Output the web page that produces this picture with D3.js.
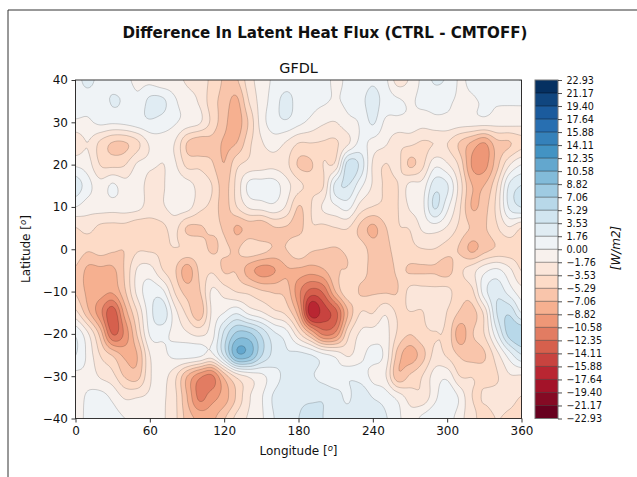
<!DOCTYPE html>
<html>
<head>
<meta charset="utf-8">
<script src="https://cdn.jsdelivr.net/npm/d3@7"></script>
<style>
  html, body { margin: 0; padding: 0; background: #fff; }
  svg { display: block; }
  text { font-family: "DejaVu Sans", sans-serif; fill: #111; }
</style>
</head>
<body>
<div class="container"></div>
<script>
var width = 637,
    height = 477;
var margin = { top: 80, left: 75.5, right: 521.5, bottom: 418.5 };

var titleText = "Difference In Latent Heat Flux (CTRL - CMTOFF)";
var panelText = "GFDL";
var xLabelText = "Longitude [";
var yLabelText = "Latitude [";
var cbarLabelText = "[W/m2]";

var lonTicks = [0, 60, 120, 180, 240, 300, 360];
var latTicks = [-40, -30, -20, -10, 0, 10, 20, 30, 40];

var levels = [-22.93, -21.17, -19.40, -17.64, -15.88, -14.11, -12.35, -10.58, -8.82, -7.06, -5.29, -3.53, -1.76,
  0.00, 1.76, 3.53, 5.29, 7.06, 8.82, 10.58, 12.35, 14.11, 15.88, 17.64, 19.40, 21.17, 22.93];

// grid nodes, flux difference in W/m2
var lons = d3.range(0, 361, 10);
var lats = [40, 35, 30, 25, 20, 15, 10, 5, 0, -5, -10, -15, -20, -25, -30, -35, -40];

var row40 = [1.2,2.2,1.2,1,0.5,-0.5,-0.5,-1.3,-1.2,-2,-2.5,-4,-5.5,-5.5,-2.5,-1,0.3,0.8,1,1.5,1,-0.5,0.5,0.8,1.5,0.5,-2.5,-1.5,0.5,2,1.5,-0.2,0.5,1,1.2,1.5,1.8];
var row35 = [1,0.8,1,1.9,1.5,0.5,2.2,2.2,0.3,-1,-2,-4.5,-6,-7.5,-3.5,-1,0.8,2.4,1,0.7,0.3,-0.2,0.5,1.2,2.5,1,0.3,-0.2,0.4,0.5,0.3,-0.3,-0.3,0.3,0.2,0.2,0.3];
var row30 = [-0.3,-0.3,0.4,0.3,0.5,1,1.5,1,0.2,-0.7,-1.5,-4,-6.5,-8,-5,-1,1,1.5,0.5,-0.5,-1.5,-1.8,-0.5,0.2,2,-0.3,-0.5,-0.5,-1,-0.5,-0.5,-0.8,-0.8,-0.8,-1,-1,-1.2];
var row25 = [-3,-1.8,-4,-5.5,-5.5,-4,-1.5,-1,-1.8,-5.4,-6.5,-6,-7.3,-7,-4,-2,-1,-2,-3.6,-3.6,-3.7,-3.8,-2,0.5,-0.7,-1.5,-3,-3.2,-3.8,-3.5,-3.5,-5.5,-7.5,-9,-6,-5.5,-4.2];
var row20 = [-0.3,-1,-3.6,-4,-3.6,-1.5,-1.5,-1.8,-1.5,-4,-4,-5,-7,-4,-3,-2.5,-2.2,-3,-5.5,-5.5,-3.5,-3,4.5,3,-2,-3.6,-3,-5.6,-4,-0.5,-1.5,-4,-9,-9.5,-6,-2,0];
var row15 = [2.8,0.7,-1,0.3,-1,-0.8,-2.5,-2,-0.7,-1,-2.4,-3.5,-6,-3,0.5,0.8,0.8,-1,-3,-4,-3.6,2.5,3.5,0.5,-2,-3.8,-3.6,-1.2,-1,2.8,2,-2.5,-7,-7,-3.7,2,3.6];
var row10 = [0,-1,-1,-1,-1,-1.2,-2.5,-2,-1,-1,-3,-4,-6,-3.6,-1.5,-1,-0.5,-2,-5.4,-3.6,-1.5,-0.3,0.6,-2.5,-3.6,-3.8,-3.6,-1.5,-0.5,3.8,0.5,-3.2,-7.2,-6,-3,2,3.6];
var row5 = [-3.6,-3,-4,-4.2,-4.2,-4.8,-4.4,-4,-3,-5.5,-5.5,-5,-5.5,-7.3,-6.5,-7,-5.5,-5.5,-6,-3.8,-4,-3.6,-3.5,-5.8,-7.5,-5.5,-3.7,-3.4,-1.5,-1,-2,-4,-5.5,-5.5,-3.8,-2,-3.6];
var row0 = [-4,-5,-4.5,-5,-5.2,-3.8,-3.8,-3.8,-3.6,-3.8,-4.5,-5.5,-5,-5.5,-4,-4.5,-5.5,-5.3,-4,-5,-5.3,-5.4,-5,-4.5,-6,-6,-4.3,-4,-3.6,-3.6,-4.5,-5.5,-7.5,-6,-5,-4.5,-4.3];
var rowS5 = [-5.5,-7.5,-7.5,-7.5,-5,-1.5,-1,-3.4,-5,-8,-5,-3.8,-5.5,-5.5,-8,-9.5,-9,-7.3,-7.5,-8,-7.3,-5.5,-5.2,-4.5,-6,-6.5,-5,-5.5,-5.5,-5.5,-6,-4,-2.5,-0.5,0.4,-1.2,-3.6];
var rowS10 = [-5.5,-7.5,-8,-8.5,-5.5,-1.2,1,0.5,-3.6,-6,-5.5,-1.5,-2.5,-3.6,-4,-5,-5.5,-6,-10,-13,-12,-7,-4,-5.5,-5.5,-5.5,-5.3,-3,-3,-3,-3,-4.5,-4,1,3,1,-1];
var rowS15 = [-3,-6.5,-10,-13.5,-8,-3.5,1,3,-1,-4,-6.5,-1.5,0,1.5,-0.5,-1.5,-3,-4,-8,-17,-15,-13,-7,-3.5,-3.6,-2,-3.8,-3.6,-3.6,-2.5,-3.6,-5.5,-6,-3,3.5,5,1.7];
var rowS20 = [1.5,-1.5,-6,-12.5,-10,-5,0.2,0.5,-0.5,-1.5,-2.2,-0.8,4,7.5,7.5,5,2.2,0.8,-3,-7,-11,-10,-4,-1.5,-1,-1,-3.8,-5.2,-4,-3.6,-4,-8,-5.5,-3.5,1.2,6,7];
var rowS25 = [1.8,-0.5,-3.6,-5.5,-7.5,-7,-1.8,-0.5,0.4,0.8,0.5,-0.5,4,10,9.5,5.5,3,2,2.3,1.8,0.5,-0.5,-2,-0.5,0.5,-0.5,-6,-8,-6,-3,-3.8,-5.5,-6,-5.5,-2.5,0.8,3.4];
var rowS30 = [-0.5,-0.5,-2,-3,-5.5,-6,-2,-1.2,-3,-7,-10,-11,-6.5,-3,-1.5,-0.5,1,2.2,2.2,2,1,0.3,1.5,1,-0.5,-1.5,-6.5,-5,-3.5,-1,-0.5,-3.5,-3.6,-4,-3.7,-2,-2];
var rowS35 = [-0.5,0.2,0.7,-0.4,-2,-1.8,-1.5,-1.5,-3,-7,-11,-9.5,-8,-5,-2,-0.2,2,2.8,3,3,3.3,2.5,1.5,3,1.7,1,-0.5,-2.5,-3,-0.5,1.5,-0.3,-3.5,-3.4,-3,-3,-3.6];
var rowS40 = [-0.5,0.3,0.7,0.7,0,-0.5,-1,-1.5,-3,-6,-7.5,-7.5,-5.5,-3,-1.5,-0.3,1.7,3,3.5,5,3.5,1.8,2.5,2,3.2,2,0.5,-1,0.5,1.5,1,-1,-3,-4,-3.5,-3.8,-4];

var rows = [row40, row35, row30, row25, row20, row15, row10, row5, row0, rowS5, rowS10, rowS15, rowS20, rowS25, rowS30, rowS35, rowS40];

// ---------- COLOURS ----------
// matplotlib RdBu_r stops, dark red first
var rdbu = ["#67001f", "#b2182b", "#d6604d", "#f4a582", "#fddbc7", "#f7f7f7", "#d1e5f0", "#92c5de", "#4393c3", "#2166ac", "#053061"];
var rdbuScale = d3.scaleLinear()
    .domain(d3.range(0, 1.01, 0.1))
    .range(rdbu);
// first and last bins take the very ends of the colormap
function binColour(i) {
  return rdbuScale(i / (levels.length - 2));
}

var svg = d3.select(".container").append("svg")
    .attr("width", width)
    .attr("height", height);

svg.append("rect").attr("width", width).attr("height", height).attr("fill", "#fff");

// figure frame, only top and left show
svg.append("path")
    .attr("d", "M8,477V10H637")
    .attr("fill", "none")
    .attr("stroke", "#333")
    .attr("stroke-width", 1);

var x = d3.scaleLinear().domain([0, 360]).range([margin.left, margin.right]);
var y = d3.scaleLinear().domain([-40, 40]).range([margin.bottom, margin.top]);

// ---------- FIELD ----------
// catmull-rom upsample of the grid so contour lines come out round
var upsample = 8;
function cubic(a, b, c, d, t) {
  return b + 0.5 * t * (c - a + t * (2 * a - 5 * b + 4 * c - d + t * (3 * (b - c) + d - a)));
}
function fieldAt(fx, fy) {
  var nx = lons.length, ny = lats.length;
  var i = Math.min(Math.floor(fx), nx - 2), j = Math.min(Math.floor(fy), ny - 2);
  var col = [];
  for (var m = -1; m <= 2; m++) {
    var r = rows[Math.max(0, Math.min(ny - 1, j + m))];
    col.push(cubic(r[Math.max(0, i - 1)], r[i], r[i + 1], r[Math.min(nx - 1, i + 2)], fx - i));
  }
  return cubic(col[0], col[1], col[2], col[3], fy - j);
}
var gridW = (lons.length - 1) * upsample + 1,
    gridH = (lats.length - 1) * upsample + 1;
var values = new Float64Array(gridW * gridH);
for (var gy = 0; gy < gridH; gy++) {
  for (var gx = 0; gx < gridW; gx++) {
    values[gy * gridW + gx] = fieldAt(gx / upsample, gy / upsample);
  }
}

var contours = d3.contours()
    .size([gridW, gridH])
    .smooth(true)
    .thresholds(levels)(values);

var gx2lon = d3.scaleLinear().domain([0.5, gridW - 0.5]).range([0, 360]);
var gy2lat = d3.scaleLinear().domain([0.5, gridH - 0.5]).range([40, -40]);
var path = d3.geoPath(d3.geoTransform({
  point: function(a, b) { this.stream.point(x(gx2lon(a)), y(gy2lat(b))); }
}));

svg.append("defs").append("clipPath").attr("id", "plot-clip")
  .append("rect")
    .attr("x", margin.left).attr("y", margin.top)
    .attr("width", margin.right - margin.left)
    .attr("height", margin.bottom - margin.top);

var plot = svg.append("g").attr("clip-path", "url(#plot-clip)");

plot.selectAll(".band")
    .data(contours.slice(0, contours.length - 1))
  .enter().append("path")
    .attr("class", "band")
    .attr("d", path)
    .attr("fill", function(d, i) { return binColour(i); });

plot.selectAll(".line")
    .data(contours)
  .enter().append("path")
    .attr("class", "line")
    .attr("d", path)
    .attr("fill", "none")
    .attr("stroke", "#000")
    .attr("stroke-opacity", 0.22)
    .attr("stroke-width", 0.8);

// ---------- AXES ----------
var xAxis = svg.append("g")
    .attr("transform", "translate(0," + margin.bottom + ")")
    .call(d3.axisBottom(x).tickValues(lonTicks).tickSize(4).tickPadding(3.5));
var yAxis = svg.append("g")
    .attr("transform", "translate(" + margin.left + ",0)")
    .call(d3.axisLeft(y).tickValues(latTicks).tickSize(4).tickPadding(3.5)
      .tickFormat(function(d) { return String(d).replace("-", "\u2212"); }));
[xAxis, yAxis].forEach(function(a) {
  a.selectAll("text").style("font-size", "12px");
  a.select(".domain").remove();
  a.selectAll("line").attr("stroke", "#222").attr("stroke-width", 0.9);
});

svg.append("rect")
    .attr("x", margin.left).attr("y", margin.top)
    .attr("width", margin.right - margin.left)
    .attr("height", margin.bottom - margin.top)
    .attr("fill", "none")
    .attr("stroke", "#222")
    .attr("stroke-width", 0.9);

// ---------- COLOURBAR ----------
var cbarLeft = 535, cbarRight = 558;
// tick positions are evenly spaced on a contourf colourbar
var cbEven = d3.scalePoint().domain(levels).range([margin.bottom, margin.top]);

svg.selectAll(".cbin")
    .data(levels.slice(0, -1))
  .enter().append("rect")
    .attr("class", "cbin")
    .attr("x", cbarLeft)
    .attr("width", cbarRight - cbarLeft)
    .attr("y", function(d, i) { return cbEven(levels[i + 1]); })
    .attr("height", function(d, i) { return cbEven(levels[i]) - cbEven(levels[i + 1]); })
    .attr("fill", function(d, i) { return binColour(i); });

svg.selectAll(".clev")
    .data(levels.slice(1, -1))
  .enter().append("line")
    .attr("class", "clev")
    .attr("x1", cbarLeft).attr("x2", cbarRight)
    .attr("y1", function(d) { return cbEven(d); })
    .attr("y2", function(d) { return cbEven(d); })
    .attr("stroke", "#000")
    .attr("stroke-opacity", 0.5)
    .attr("stroke-width", 0.8);

svg.append("rect")
    .attr("x", cbarLeft).attr("y", margin.top)
    .attr("width", cbarRight - cbarLeft)
    .attr("height", margin.bottom - margin.top)
    .attr("fill", "none")
    .attr("stroke", "#777")
    .attr("stroke-width", 1);

var cbAxis = svg.append("g")
    .attr("transform", "translate(" + cbarRight + ",0)")
    .call(d3.axisRight(cbEven).tickSize(4).tickPadding(4.5)
      .tickFormat(function(d) { return d.toFixed(2).replace("-", "\u2212"); }));
cbAxis.select(".domain").remove();
cbAxis.selectAll("line").attr("stroke", "#222").attr("stroke-width", 0.8);
cbAxis.selectAll("text").style("font-size", "9.6px");

// ---------- TEXT ----------
svg.append("text")
    .attr("x", 325).attr("y", 38)
    .attr("text-anchor", "middle")
    .style("font-size", "15.1px").style("font-weight", "bold")
    .text(titleText);
svg.append("text")
    .attr("x", 298.5).attr("y", 72.5)
    .attr("text-anchor", "middle")
    .style("font-size", "14.4px")
    .text(panelText);

var xl = svg.append("text")
    .attr("x", 298.5).attr("y", 455)
    .attr("text-anchor", "middle")
    .style("font-size", "12px");
xl.append("tspan").text(xLabelText);
xl.append("tspan").attr("dy", -4).style("font-size", "8.5px").style("font-style", "italic").text("o");
xl.append("tspan").attr("dy", 4).text("]");

var yl = svg.append("text")
    .attr("transform", "translate(30,249) rotate(-90)")
    .attr("text-anchor", "middle")
    .style("font-size", "12px");
yl.append("tspan").text(yLabelText);
yl.append("tspan").attr("dy", -4).style("font-size", "8.5px").style("font-style", "italic").text("o");
yl.append("tspan").attr("dy", 4).text("]");

svg.append("text")
    .attr("transform", "translate(620,248) rotate(-90)")
    .attr("text-anchor", "middle")
    .style("font-size", "12px").style("font-style", "italic")
    .text(cbarLabelText);
</script>
</body>
</html>
